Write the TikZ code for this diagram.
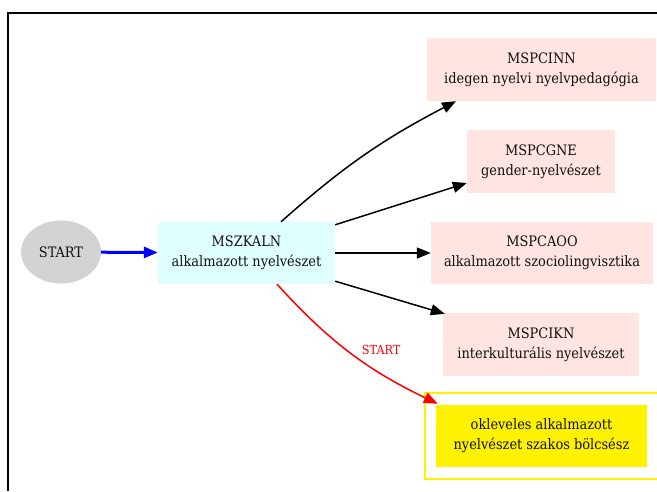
\documentclass[tikz,border=0pt]{standalone}
\usepackage{fontspec}
\setmainfont{DejaVu Serif Condensed}
\usetikzlibrary{arrows.meta,shapes.geometric}
\definecolor{mistyrose}{HTML}{FFE4E1}
\definecolor{lightcyanc}{HTML}{E0FFFF}
\definecolor{lgray}{HTML}{D3D3D3}
\definecolor{txt}{HTML}{111111}
\begin{document}
\begin{tikzpicture}[x=1pt,y=-1pt,
  box/.style={rectangle, inner sep=0pt, align=center, font=\fontsize{14.4}{20}\selectfont, text=txt},
  pink/.style={box, fill=mistyrose},
  edge/.style={line width=1.5pt, -{Triangle[length=14pt,width=11pt]}},
]
\useasboundingbox (0,0) rectangle (657,491);
\draw[line width=2pt] (8,491) -- (8,12.5) -- (657,12.5);

\node[ellipse, fill=lgray, minimum width=80pt, minimum height=63pt, inner sep=0pt, font=\fontsize{14.4}{20}\selectfont, text=txt] (start) at (61,252) {START};
\node[box, fill=lightcyanc, minimum width=177pt, minimum height=62pt] (mszkaln) at (246.5,253) {MSZKALN\\alkalmazott nyelvészet};
\node[pink, minimum width=229pt, minimum height=63pt] (inn) at (541.5,69.5) {MSPCINN\\idegen nyelvi nyelvpedagógia};
\node[pink, minimum width=148pt, minimum height=63pt] (gne) at (541,161.5) {MSPCGNE\\gender-nyelvészet};
\node[pink, minimum width=222pt, minimum height=62pt] (aoo) at (542,253) {MSPCAOO\\alkalmazott szociolingvisztika};
\node[pink, minimum width=196pt, minimum height=63pt] (ikn) at (541,344.5) {MSPCIKN\\interkulturális nyelvészet};
\node[box, fill=yellow, minimum width=211pt, minimum height=62pt] (okl) at (541.5,436) {okleveles alkalmazott\\nyelvészet szakos bölcsész};
\node[draw=yellow, line width=1.5pt, minimum width=236pt, minimum height=86pt, inner sep=0pt] (oklframe) at (543,436) {};

\draw[edge, blue, line width=3pt] (start) -- (mszkaln);
\draw[edge] ([xshift=34.5pt]mszkaln.north) to[bend left=7] ([xshift=-85.5pt]inn.south);
\draw[edge] ([yshift=-3pt]mszkaln.north east) -- ([yshift=-21.5pt]gne.west);
\draw[edge] (mszkaln.east) -- (aoo.west);
\draw[edge] ([yshift=3pt]mszkaln.south east) -- ([xshift=2pt,yshift=-1pt]ikn.north west);
\draw[edge, red] ([xshift=30.5pt]mszkaln.south) to[bend right=11] node[pos=0.55, above right, inner sep=0pt, xshift=3pt, yshift=3pt, font=\fontsize{12.5}{14}\selectfont, text=red] {START} ([xshift=2pt,yshift=1pt]okl.north west);
\end{tikzpicture}
\end{document}
